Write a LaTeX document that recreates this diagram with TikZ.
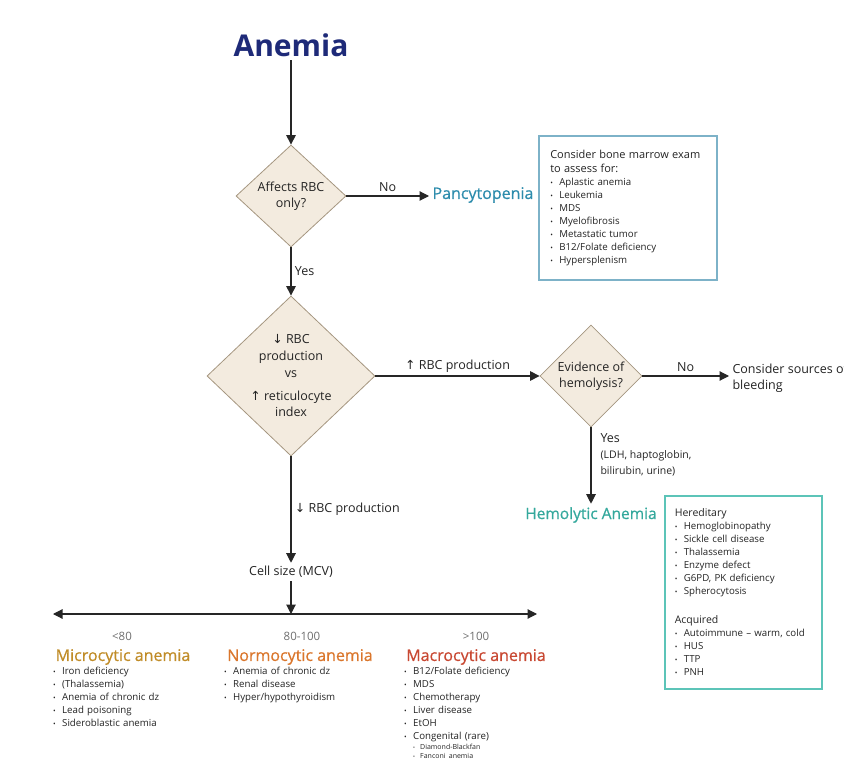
\documentclass[tikz,border=0pt]{standalone}
\usepackage{fontspec}
\setmainfont{Open Sans}
\newfontfamily\symfont{DejaVu Sans}
\newfontfamily\semib{Open Sans}[FakeBold=0.7]
\usepackage{tikz}
\usetikzlibrary{arrows.meta, shapes.geometric, positioning}
\definecolor{navy}{RGB}{30,42,120}
\definecolor{txt}{RGB}{35,35,35}
\definecolor{numgray}{RGB}{110,110,110}
\definecolor{diafill}{RGB}{243,235,223}
\definecolor{diadraw}{RGB}{165,150,128}
\definecolor{pancol}{RGB}{45,140,172}
\definecolor{panbox}{RGB}{125,178,200}
\definecolor{hemcol}{RGB}{52,168,156}
\definecolor{hembox}{RGB}{92,196,184}
\definecolor{microcol}{RGB}{192,140,40}
\definecolor{normocol}{RGB}{218,118,44}
\definecolor{macrocol}{RGB}{200,72,50}
\newcommand{\itm}[1]{\makebox[9pt][l]{\fontsize{7}{7}\selectfont•}#1}
\newcommand{\subitm}[1]{\hspace*{9pt}\makebox[7pt][l]{\fontsize{5}{5}\selectfont•}{\fontsize{7}{9}\selectfont #1}}
\newcommand{\uparr}{{\symfont\fontsize{12.5}{12.5}\selectfont ↑}}
\newcommand{\downarr}{{\symfont\fontsize{12.5}{12.5}\selectfont ↓}}

\begin{document}
\begin{tikzpicture}[x=1pt,y=-1pt,
    arr/.style={-{Triangle[width=9.5pt,length=9.5pt]},line width=1.1pt,draw=black!85},
    dia/.style={diamond,draw=diadraw,fill=diafill,line width=0.8pt,inner sep=0pt},
    lbl/.style={font=\fontsize{12.5}{16}\selectfont,text=txt},
    lst/.style={anchor=north west,inner sep=0pt,align=left,text width=170,font=\fontsize{9.7}{13}\selectfont,text=txt},
    cat/.style={font=\semib\fontsize{16}{18}\selectfont},
    num/.style={font=\fontsize{11.5}{14}\selectfont,text=numgray}]
    \useasboundingbox (0,0) rectangle (844,759);
    \clip (0,0) rectangle (844,759);

    \node[font=\fontsize{30}{34}\selectfont\bfseries,text=navy] (title) at (291,45) {Anemia}; %title

    % first question
    \node[dia,minimum width=110,minimum height=102] (q1) at (291,196) {};
    \node[lbl,align=center] (q1t) at (q1) {Affects RBC\\only?};
    \node[cat,text=pancol,anchor=west] (pan) at (429,195) {Pancytopenia};
    \node[draw=panbox,line width=1.6pt,anchor=north west,minimum width=178,minimum height=144,
          inner sep=0pt,text width=155,align=left,font=\fontsize{9.7}{13}\selectfont,text=txt]
          (marrow) at (538,135) {{\fontsize{11}{14}\selectfont Consider bone marrow exam}\\[1pt]
          {\fontsize{11}{14}\selectfont to assess for:}\\
          \itm{Aplastic anemia}\\ \itm{Leukemia}\\ \itm{MDS}\\ \itm{Myelofibrosis}\\
          \itm{Metastatic tumor}\\ \itm{B12/Folate deficiency}\\ \itm{Hypersplenism}};

    % second question
    \node[dia,minimum width=168,minimum height=160] (q2) at (291,376) {};
    \node[lbl,align=center] (q2t) at (q2) {\downarr\ RBC\\[1pt]production\\[1pt]vs\\[7pt]\uparr\ reticulocyte\\index};

    % hemolysis
    \node[dia,minimum width=102,minimum height=102] (q3) at (591,376) {};
    \node[lbl,align=center] (q3t) at (q3) {Evidence of\\hemolysis?};
    \node[lbl,anchor=west,align=left] (bleed) at (729,378) {Consider sources of\\bleeding};
    \node[cat,text=hemcol,font=\semib\fontsize{15.5}{18}\selectfont] (hemo) at (591,515) {Hemolytic Anemia};
    \node[draw=hembox,line width=1.6pt,anchor=north west,minimum width=157,minimum height=193,
          inner sep=0pt,text width=137,align=left,font=\fontsize{9.7}{13}\selectfont,text=txt]
          (hembx) at (664,495) {{\fontsize{10.5}{13}\selectfont Hereditary}\\
          \itm{Hemoglobinopathy}\\ \itm{Sickle cell disease}\\ \itm{Thalassemia}\\
          \itm{Enzyme defect}\\ \itm{G6PD, PK deficiency}\\ \itm{Spherocytosis}\\[16pt]
          {\fontsize{10.5}{13}\selectfont Acquired}\\
          \itm{Autoimmune -- warm, cold}\\ \itm{HUS}\\ \itm{TTP}\\ \itm{PNH}};

    % cell size
    \node[lbl] (cell) at (291,572) {Cell size (MCV)};
    \coordinate (axis) at (291,614);
    \coordinate (axl) at (53,614);
    \coordinate (axr) at (537,614);

    \node[num] (n1) at (122,636) {<80};
    \node[num] (n2) at (302,636) {80-100};
    \node[num] (n3) at (476,636) {>100};
    \node[cat,text=microcol] (micro) at (123,657) {Microcytic anemia};
    \node[cat,text=normocol] (normo) at (300,657) {Normocytic anemia};
    \node[cat,text=macrocol] (macro) at (476,657) {Macrocytic anemia};
    \node[lst] (microl) at (53,667) {\itm{Iron deficiency}\\ \itm{(Thalassemia)}\\
          \itm{Anemia of chronic dz}\\ \itm{Lead poisoning}\\ \itm{Sideroblastic anemia}};
    \node[lst] (normol) at (224,667) {\itm{Anemia of chronic dz}\\ \itm{Renal disease}\\
          \itm{Hyper/hypothyroidism}};
    \node[lst] (macrol) at (404,667) {\itm{B12/Folate deficiency}\\ \itm{MDS}\\
          \itm{Chemotherapy}\\ \itm{Liver disease}\\ \itm{EtOH}\\ \itm{Congenital (rare)}\\[-3pt]
          \subitm{Diamond-Blackfan}\\[-4pt] \subitm{Fanconi anemia}};

    % connectors
    \draw[arr] (title) -- (q1.north);
    \draw[arr] (q1.east) -- (q1.east -| pan.west) node[midway,above,lbl]{No};
    \draw[arr] (q1.south) -- (q2.north) node[midway,right,lbl]{Yes};
    \draw[arr] (q2.east) -- (q3.west) node[midway,above,lbl]{\uparr\ RBC production};
    \draw[arr] (q3.east) -- (q3.east -| bleed.west) node[midway,above,lbl]{No};
    \draw[arr] (q3.south) -- (hemo.north) node[pos=0.05,anchor=north west,align=left,lbl,inner sep=2pt,xshift=7pt]
          {Yes\\{\fontsize{10.5}{14}\selectfont (LDH, haptoglobin,}\\{\fontsize{10.5}{14}\selectfont bilirubin, urine)}};
    \draw[arr] (q2.south) -- (cell.north) node[midway,right,lbl]{\downarr\ RBC production};
    \draw[arr] (cell.south) -- (axis);
    \draw[{Triangle[width=9.5pt,length=9.5pt]}-{Triangle[width=9.5pt,length=9.5pt]},line width=1.1pt,draw=black!85] (axl) -- (axr);
\end{tikzpicture}
\end{document}
